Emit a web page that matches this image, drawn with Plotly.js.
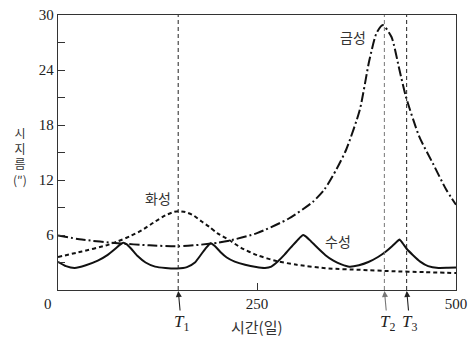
<!DOCTYPE html>
<html>
<head>
<meta charset="utf-8">
<script src="https://cdn.plot.ly/plotly-3.0.1.min.js"></script>
<style>html,body{margin:0;padding:0;background:#fff;}#chart{width:468px;height:345px;}</style>
</head>
<body>
<div id="chart"></div>
<script>
// Mercury (수성)
const mercuryDays = [0,10,21,35,50,62,72,78,82,86,92,100,110,122,135,150,162,172,180,186,192,197,204,212,222,235,249,260,268,276,284,292,300,305,308,312,318,326,336,346,356,366,378,390,402,412,420,426,429,433,438,446,455,465,478,490,500];
const mercuryVals = [3.07,2.6,2.4,2.7,3.2,3.8,4.5,4.95,5.15,5.0,4.5,3.7,3.0,2.55,2.4,2.35,2.5,3.0,3.9,4.6,5.1,4.8,4.15,3.55,3.1,2.75,2.5,2.4,2.55,3.1,3.8,4.6,5.35,5.8,6.0,5.8,5.3,4.6,3.8,3.2,2.8,2.55,2.7,3.05,3.6,4.2,4.8,5.3,5.5,5.1,4.5,3.8,3.1,2.6,2.4,2.42,2.45];
// Mars (화성)
const marsDays = [0,30,60,75,90,105,120,135,145,151,160,170,180,190,200,216,230,250,275,300,340,380,420,460,500];
const marsVals = [3.6,4.2,4.85,5.3,5.85,6.5,7.35,8.15,8.5,8.6,8.5,8.15,7.5,6.9,6.2,5.4,4.6,3.8,3.15,2.75,2.35,2.2,2.05,1.95,1.85];
// Venus (금성)
const venusDays = [0,30,75,115,151,180,200,216,250,290,320,335,350,362,379,391,400,408,419,429,437,454,471,488,500];
const venusVals = [5.95,5.5,5.1,4.87,4.76,4.95,5.15,5.4,6.2,7.8,9.6,11.0,13.2,15.3,19.6,25.0,28.0,28.9,27.6,24.0,21.1,16.7,13.8,10.9,9.3];

// Marked times
const tDays = [151, 410, 438];
const tNames = ['1', '2', '3'];
const tColors = ['#222', '#777', '#222'];

// Tick labels
const yTickVals = [6, 12, 18, 24, 30];
const yTickText = ['6', '12', '18', '24', '30'];
const yMinorVals = [3, 9, 15, 21, 27];
const xTickVals = [250, 500];
const xTickText = ['250', '500'];
const originLabel = '0';

// Labels
const planetNames = ['수성', '화성', '금성'];
const planetLabelPos = [[352, 5.4], [126, 10.0], [370, 27.6]];
const yTitle = '시<br>지<br>름<br>(″)';
const xTitle = '시간(일)';

const serif = 'Liberation Serif, DejaVu Serif, serif';
const sans = 'Noto Sans CJK KR, Noto Sans, sans-serif';

const traces = [
  {x: mercuryDays, y: mercuryVals, mode: 'lines', line: {color: '#111', width: 2, shape: 'spline', smoothing: 0.5}},
  {x: marsDays, y: marsVals, mode: 'lines', line: {color: '#111', width: 2, dash: '4px,3px', shape: 'spline', smoothing: 0.6}},
  {x: venusDays, y: venusVals, mode: 'lines', line: {color: '#111', width: 2, dash: '10px,3px,2px,3px', shape: 'spline', smoothing: 0.6}}
];

const shapes = tDays.map((d, i) => ({
  type: 'line', xref: 'x', yref: 'paper', x0: d, x1: d, y0: 0, y1: 1,
  line: {color: tColors[i], width: 1, dash: '4px,3px'}
}));

const annotations = [];
tDays.forEach((d, i) => {
  annotations.push({
    x: d, y: 0, xref: 'x', yref: 'y',
    text: '<i>T</i><sub>' + tNames[i] + '</sub>',
    showarrow: true, ax: 3, ay: 33, arrowhead: 2, arrowsize: 1.1, arrowwidth: 1.1,
    arrowcolor: tColors[i], standoff: 1,
    font: {family: serif, size: 17, color: '#222'}
  });
});
planetNames.forEach((n, i) => {
  annotations.push({
    x: planetLabelPos[i][0], y: planetLabelPos[i][1], xref: 'x', yref: 'y',
    text: n, showarrow: false, font: {family: sans, size: 14, color: '#333'}
  });
});
annotations.push({
  x: (20 - 58) / 398, y: (290 - 156) / 275, xref: 'paper', yref: 'paper',
  xanchor: 'center', yanchor: 'middle',
  text: yTitle, showarrow: false, font: {family: sans, size: 12, color: '#333'}
});
annotations.push({
  x: 0, y: 0, xref: 'x', yref: 'y', text: originLabel, showarrow: false,
  xshift: -10, yshift: -14, font: {family: serif, size: 15, color: '#222'}
});
annotations.push({
  x: 0.5, y: 0, xref: 'paper', yref: 'paper', text: xTitle, showarrow: false,
  yshift: -49, font: {family: sans, size: 15, color: '#333'}
});

const layout = {
  width: 468, height: 345,
  margin: {l: 58, r: 12, t: 15, b: 55},
  paper_bgcolor: '#fff', plot_bgcolor: '#fff',
  showlegend: false,
  xaxis: {
    range: [0, 500], tickmode: 'array', tickvals: xTickVals, ticktext: xTickText,
    ticks: 'inside', ticklen: 7, tickcolor: '#333', tickwidth: 1,
    showgrid: false, zeroline: false, showline: true, mirror: true,
    linecolor: '#333', linewidth: 1.3,
    tickfont: {family: serif, size: 15, color: '#222'}
  },
  yaxis: {
    range: [0, 30], tickmode: 'array', tickvals: yTickVals, ticktext: yTickText,
    ticks: 'inside', ticklen: 7, tickcolor: '#333', tickwidth: 1,
    minor: {tickmode: 'array', tickvals: yMinorVals, ticks: 'inside', ticklen: 7, tickcolor: '#333', tickwidth: 1, showgrid: false},
    showgrid: false, zeroline: false, showline: true, mirror: true,
    linecolor: '#333', linewidth: 1.3,
    tickfont: {family: serif, size: 15, color: '#222'}
  },
  shapes: shapes,
  annotations: annotations
};

Plotly.newPlot('chart', traces, layout, {displayModeBar: false, staticPlot: true});
</script>
</body>
</html>
